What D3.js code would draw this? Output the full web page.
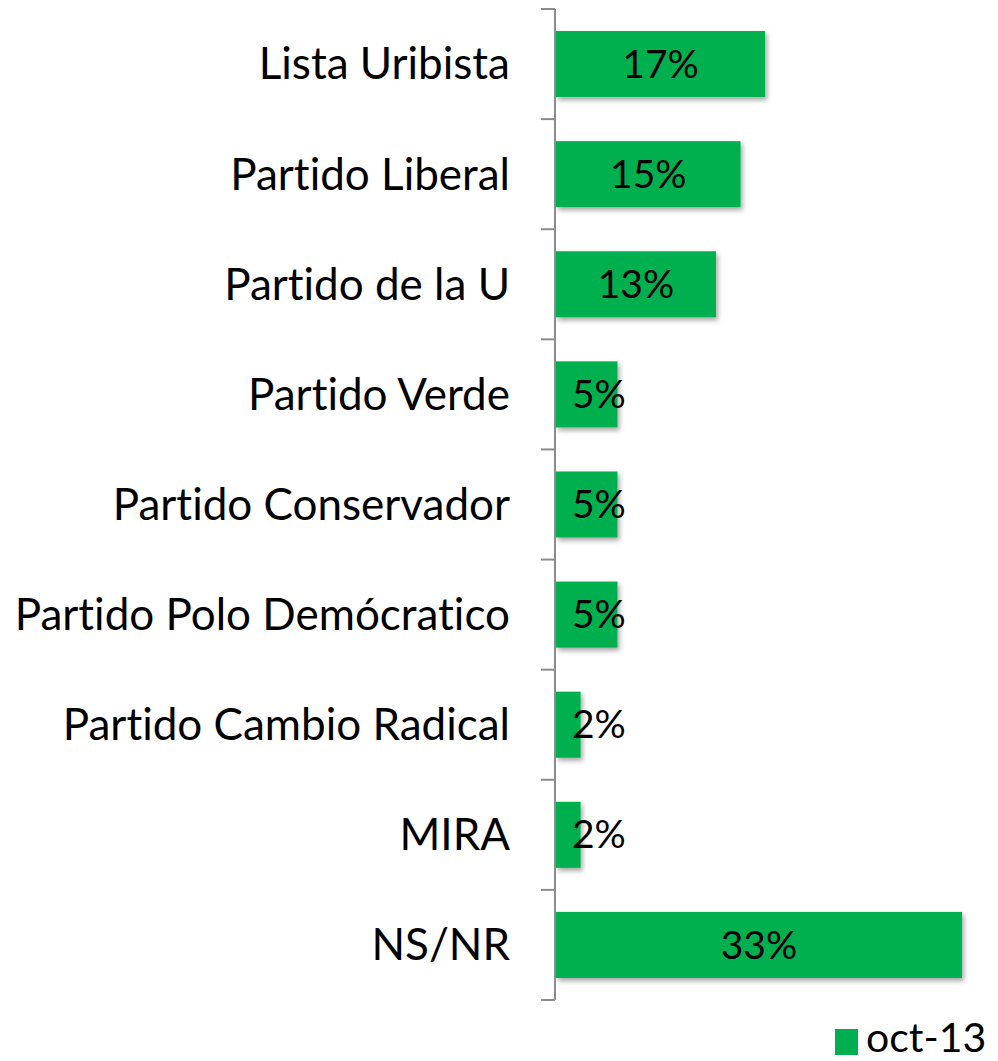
<!DOCTYPE html>
<html>
<head>
<meta charset="utf-8">
<script src="https://cdn.jsdelivr.net/npm/d3@7"></script>
<style>
  body { margin: 0; background: #fff; }
  svg { display: block; font-family: Lato, "Noto Sans", sans-serif; font-variant-ligatures: none; }
</style>
</head>
<body>
<div id="chart"></div>
<script>
// data
let categories = ["Lista Uribista", "Partido Liberal", "Partido de la U", "Partido Verde",
  "Partido Conservador", "Partido Polo Demócratico", "Partido Cambio Radical", "MIRA", "NS/NR"]
let values = [0.17, 0.15, 0.13, 0.05, 0.05, 0.05, 0.02, 0.02, 0.33]
let seriesName = "oct-13"

let width = 998
let height = 1061
let barColor = "#00B050"

let svg = d3.select("#chart").append("svg")
  .attr("width", width)
  .attr("height", height)

// soft shadow like the office chart
let defs = svg.append("defs")
let f = defs.append("filter").attr("id", "shadow")
  .attr("x", "-10%").attr("y", "-10%").attr("width", "130%").attr("height", "140%")
f.append("feDropShadow")
  .attr("dx", 2).attr("dy", 3).attr("stdDeviation", 2.5)
  .attr("flood-color", "#000").attr("flood-opacity", 0.35)

let y = d3.scaleBand()
  .domain(categories)
  .range([9, 1000])
  .paddingInner(0.4)
  .paddingOuter(0.2)

let x = d3.scaleLinear()
  .domain([0, 0.33])
  .range([556, 962])

let data = categories.map((c, i) => ({ cat: c, value: values[i] }))

// bars
svg.append("g")
  .selectAll("rect")
  .data(data)
  .enter().append("rect")
    .attr("x", x(0))
    .attr("y", d => y(d.cat))
    .attr("width", d => x(d.value) - x(0))
    .attr("height", y.bandwidth())
    .attr("fill", barColor)
    .attr("filter", "url(#shadow)")

// axis line + ticks at band edges
let axis = svg.append("g").attr("stroke", "#8c8c8c").attr("stroke-width", 2)
axis.append("line")
  .attr("x1", 555).attr("x2", 555)
  .attr("y1", y.range()[0]).attr("y2", y.range()[1])
let edges = categories.map((c, i) => y.range()[0] + i * y.step())
edges.push(y.range()[1])
axis.selectAll(".tick")
  .data(edges)
  .enter().append("line")
    .attr("x1", 541).attr("x2", 555)
    .attr("y1", d => d).attr("y2", d => d)

// category labels
svg.append("g")
  .selectAll("text")
  .data(data)
  .enter().append("text")
    .attr("x", 510)
    .attr("y", d => y(d.cat) + y.bandwidth() / 2)
    .attr("dy", "0.35em")
    .attr("text-anchor", "end")
    .attr("font-size", 44)
    .attr("fill", "#000")
    .text(d => d.cat)

// value labels, centered, pushed right when the bar is too short
let labels = svg.append("g")
  .selectAll("text")
  .data(data)
  .enter().append("text")
    .attr("y", d => y(d.cat) + y.bandwidth() / 2)
    .attr("dy", "0.35em")
    .attr("text-anchor", "middle")
    .attr("font-size", 39)
    .attr("fill", "#000")
    .text(d => Math.round(d.value * 100) + "%")
labels.each(function(d) {
  let w = this.getComputedTextLength()
  let mid = (x(0) + x(d.value)) / 2
  d3.select(this).attr("x", Math.max(mid, x(0) + 16 + w / 2))
})

// legend
let legend = svg.append("g")
legend.append("rect")
  .attr("x", 835).attr("y", 1029)
  .attr("width", 23).attr("height", 26)
  .attr("fill", barColor)
legend.append("text")
  .attr("x", 866).attr("y", 1052)
  .attr("font-size", 41)
  .attr("fill", "#000")
  .text(seriesName)
</script>
</body>
</html>
